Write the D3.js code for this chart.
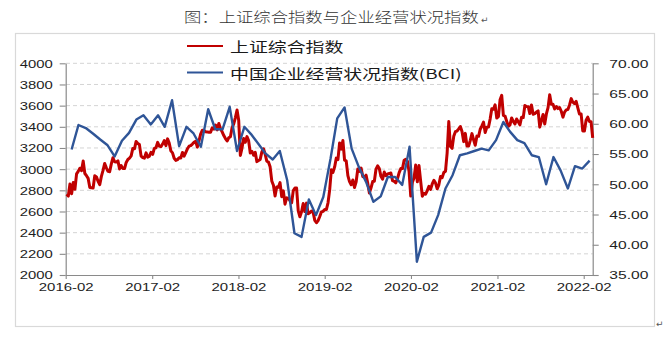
<!DOCTYPE html>
<html><head><meta charset="utf-8">
<script src="https://cdn.jsdelivr.net/npm/d3@7"></script>
<style>body{margin:0;background:#fff;}</style>
</head><body>
<svg id="c" width="670" height="353"></svg>
<script>
// ---------- data ----------
const titleText = "图：上证综合指数与企业经营状况指数";
const legendRed = "上证综合指数";
const legendBlue = "中国企业经营状况指数(BCI)";
const xTickLabels = ["2016-02","2017-02","2018-02","2019-02","2020-02","2021-02","2022-02"];
const leftTicks = [2000,2200,2400,2600,2800,3000,3200,3400,3600,3800,4000];
const rightTicks = [35,40,45,50,55,60,65,70];

// Shanghai Composite, weekly (Fridays from 2016-02-05)
const red2016 = [2763,2746,2860,2767, 2874,2810,2955,2979, 3009,2985,3078,2959,2938, 2913,2827,2825,2822,
  2938,2927,2885,2854, 2932,2988,3054,3012,2979, 2976,3050,3108,3070, 3067,3078,3002,3033,3005,
  3005,3063,3091,3104, 3125,3196,3192,3262, 3243,3232,3123,3110,3104];
const red2017 = [3154,3113,3123,3159, 3140,3196,3202,3253, 3218,3212,3237,3269,3222, 3286,3246,3173,3154,
  3103,3083,3090,3107, 3105,3158,3123,3157,3192, 3217,3222,3237,3253, 3262,3208,3268,3331,
  3367,3365,3353,3352,3348, 3348,3390,3378,3416, 3371,3432,3382,3353, 3317,3289,3266,3297,3307];
const red2018 = [3391,3428,3487,3558, 3462,3129,3199,3289, 3254,3307,3269,3152,3169, 3131,3159,3071,3082,
  3092,3163,3193,3141, 3075,3067,3022,2889,2847, 2747,2831,2829,2873, 2740,2795,2669,2729,2725,
  2702,2682,2797,2821, 2821,2606,2550,2598, 2676,2599,2679,2579,2588, 2605,2593,2516,2494];
const red2019 = [2514,2553,2596,2601, 2618,2618,2682,2804, 2994,2969,3021,3104,3090, 3247,3189,3270,3086,
  3078,2939,2882,2853,2898, 2827,2881,3001,2979, 3011,2930,2924,2944, 2868,2774,2823,2883,2886,
  2999,3031,3006,2932, 2905,2973,2938,2955, 2958,2964,2891,2885,2871, 2912,2967,3005,3005];
const red2020 = [3083,3092,3075,2976,2746, 2876,2917,3039,2880, 3034,2887,2745,2772, 2764,2797,2838,2809,
  2860,2895,2868,2814,2852, 2930,2920,2968,2980, 3152,3450,3214,3197,3310, 3354,3360,3380,3403,
  3355,3260,3338,3219, 3218,3272,3336,3278,3225, 3312,3310,3377,3408, 3444,3347,3395,3397];
const red2021 = [3473,3570,3566,3607,3483, 3496,3655,3697,3509, 3502,3453,3405,3418, 3484,3451,3426,3474,3447,
  3418,3490,3487,3601, 3592,3590,3525,3607, 3519,3524,3539,3550,3397, 3458,3517,3427,3522,
  3581,3703,3613,3613, 3568,3592,3572,3582,3547, 3491,3539,3560,3564, 3607,3666,3632,3618,3640];
const red2022 = [3580,3521,3522,3361, 3361,3462,3491,3451, 3448,3295];
const redStart = "2016-02-05";

// BCI, monthly from 2016-02 to 2022-02
const bciStart = "2016-02";
const bciValues = [55.75,59.8,59.3,58.4,57.4,56.5,54.6,57.2,58.5,60.7,61.4,59.9,
  61.4,59.5,63.9,56.3,59.5,58.4,56.2,62.4,59.1,59.1,62.8,55.5,
  59.5,58.3,56.7,55.1,54.1,55.5,50.7,41.9,41.3,47.5,44.9,47.9,
  54.3,60.9,62.7,55.9,52.8,50.4,47.1,48.0,51.2,51.2,49.9,56.2,
  37.2,41.3,42.0,44.9,49.3,51.5,54.8,55.1,55.5,55.9,55.6,57.3,
  60.3,58.7,57.3,56.8,54.8,54.5,50.0,54.5,52.3,49.3,53.0,52.6,53.9];

// ---------- build ----------
const redValues = [].concat(red2016, red2017, red2018, red2019, red2020, red2021, red2022);
const r0 = d3.timeParse("%Y-%m-%d")(redStart);
const redData = redValues.map((v, i) => ({date: d3.timeWeek.offset(r0, i), v}));
const b0 = d3.timeParse("%Y-%m")(bciStart);
const bciData = bciValues.map((v, i) => {
  const m = d3.timeMonth.offset(b0, i);
  return {date: new Date(m.getFullYear(), m.getMonth(), 26), v};
});
const xTickDates = xTickLabels.map(d3.timeParse("%Y-%m"));

const svg = d3.select("#c");
svg.append("rect").attr("width", 670).attr("height", 353).attr("fill", "#fff");

const x = d3.scaleTime().domain([new Date(2016,1,1), new Date(2022,2,11)]).range([65.7, 592.7]);
const yL = d3.scaleLinear().domain([2000, 4000]).range([275, 63.3]);
const yR = d3.scaleLinear().domain([35, 70]).range([275, 63.3]);

function stretched(parent, tx, ty, str, sx, opts) {
  const g = parent.append("g").attr("transform", `translate(${tx},${ty}) scale(${sx},1)`);
  return g.append("text").text(str)
    .attr("font-family", opts.family || "'Noto Sans CJK SC', sans-serif")
    .attr("font-size", opts.size)
    .attr("font-weight", opts.weight || 400)
    .attr("fill", opts.fill || "#222")
    .attr("text-anchor", opts.anchor || "start");
}

// title
stretched(svg, 184, 22, titleText, 1.24, {size: 14, fill: "#333", weight: 300, family: "'Noto Sans CJK SC', serif"});
svg.append("text").attr("x", 481).attr("y", 23).text("↵")
  .attr("font-family", "DejaVu Sans").attr("font-size", 9).attr("fill", "#555");

// frame
svg.append("rect").attr("x", 15.5).attr("y", 33.5).attr("width", 639).attr("height", 293)
  .attr("fill", "none").attr("stroke", "#d9d9d9").attr("stroke-width", 1.2);
svg.append("text").attr("x", 656).attr("y", 327).text("↵")
  .attr("font-family", "DejaVu Sans").attr("font-size", 9).attr("fill", "#555");

// grid
svg.append("g").selectAll("line").data(leftTicks.filter(v => v > 2000)).join("line")
  .attr("x1", 66).attr("x2", 592.7)
  .attr("y1", d => yL(d)).attr("y2", d => yL(d))
  .attr("stroke", "#d4d4d4").attr("stroke-width", 1).attr("stroke-dasharray", "4,3");

const axisColor = "#8a8a8a";
const tickFont = "'Liberation Sans', Arial, sans-serif";

// left axis
const gL = svg.append("g").attr("transform", "translate(65.7,0)")
  .call(d3.axisLeft(yL).tickValues(leftTicks).tickSize(6).tickSizeOuter(0).tickFormat(d3.format("d")));
gL.selectAll("text").attr("font-family", tickFont).attr("font-size", 11).attr("fill", "#1e1e1e")
  .attr("transform", "scale(1.35,1)").attr("x", -13 / 1.35).attr("dy", "0.35em");

// right axis
const gR = svg.append("g").attr("transform", "translate(592.7,0)")
  .call(d3.axisRight(yR).tickValues(rightTicks).tickSize(6).tickSizeOuter(0).tickFormat(d3.format(".2f")));
gR.selectAll("text").attr("font-family", tickFont).attr("font-size", 11).attr("fill", "#1e1e1e")
  .attr("transform", "scale(1.42,1)").attr("x", 16.6 / 1.42).attr("dy", "0.35em");

// bottom axis
const gB = svg.append("g").attr("transform", "translate(0,275)")
  .call(d3.axisBottom(x).tickValues(xTickDates).tickSize(4).tickSizeOuter(0).tickFormat(d3.timeFormat("%Y-%m")));
gB.selectAll("text").attr("font-family", tickFont).attr("font-size", 11).attr("fill", "#1e1e1e")
  .attr("transform", "scale(1.36,1)").attr("x", 0).attr("y", 8).attr("dy", "0.71em");

[gL, gR, gB].forEach(g => {
  g.select(".domain").attr("stroke", axisColor).attr("stroke-width", 1.2);
  g.selectAll(".tick line").attr("stroke", axisColor).attr("stroke-width", 1.1);
});

// lines
const lineRed = d3.line().x(d => x(d.date)).y(d => yL(d.v));
const lineBlue = d3.line().x(d => x(d.date)).y(d => yR(d.v));
svg.append("path").datum(redData).attr("d", lineRed).attr("fill", "none")
  .attr("stroke", "#c00000").attr("stroke-width", 3).attr("stroke-linejoin", "round");
svg.append("path").datum(bciData).attr("d", lineBlue).attr("fill", "none")
  .attr("stroke", "#2f5597").attr("stroke-width", 2.4).attr("stroke-linejoin", "round");

// legend
svg.append("line").attr("x1", 187).attr("x2", 223).attr("y1", 46).attr("y2", 46)
  .attr("stroke", "#c00000").attr("stroke-width", 2);
stretched(svg, 230, 52, legendRed, 1.4, {size: 13.5, fill: "#1a1a1a"});
svg.append("line").attr("x1", 187).attr("x2", 223).attr("y1", 72.5).attr("y2", 72.5)
  .attr("stroke", "#2f5597").attr("stroke-width", 2);
stretched(svg, 230, 78.5, legendBlue, 1.4, {size: 13.5, fill: "#1a1a1a"});
</script>
</body></html>
